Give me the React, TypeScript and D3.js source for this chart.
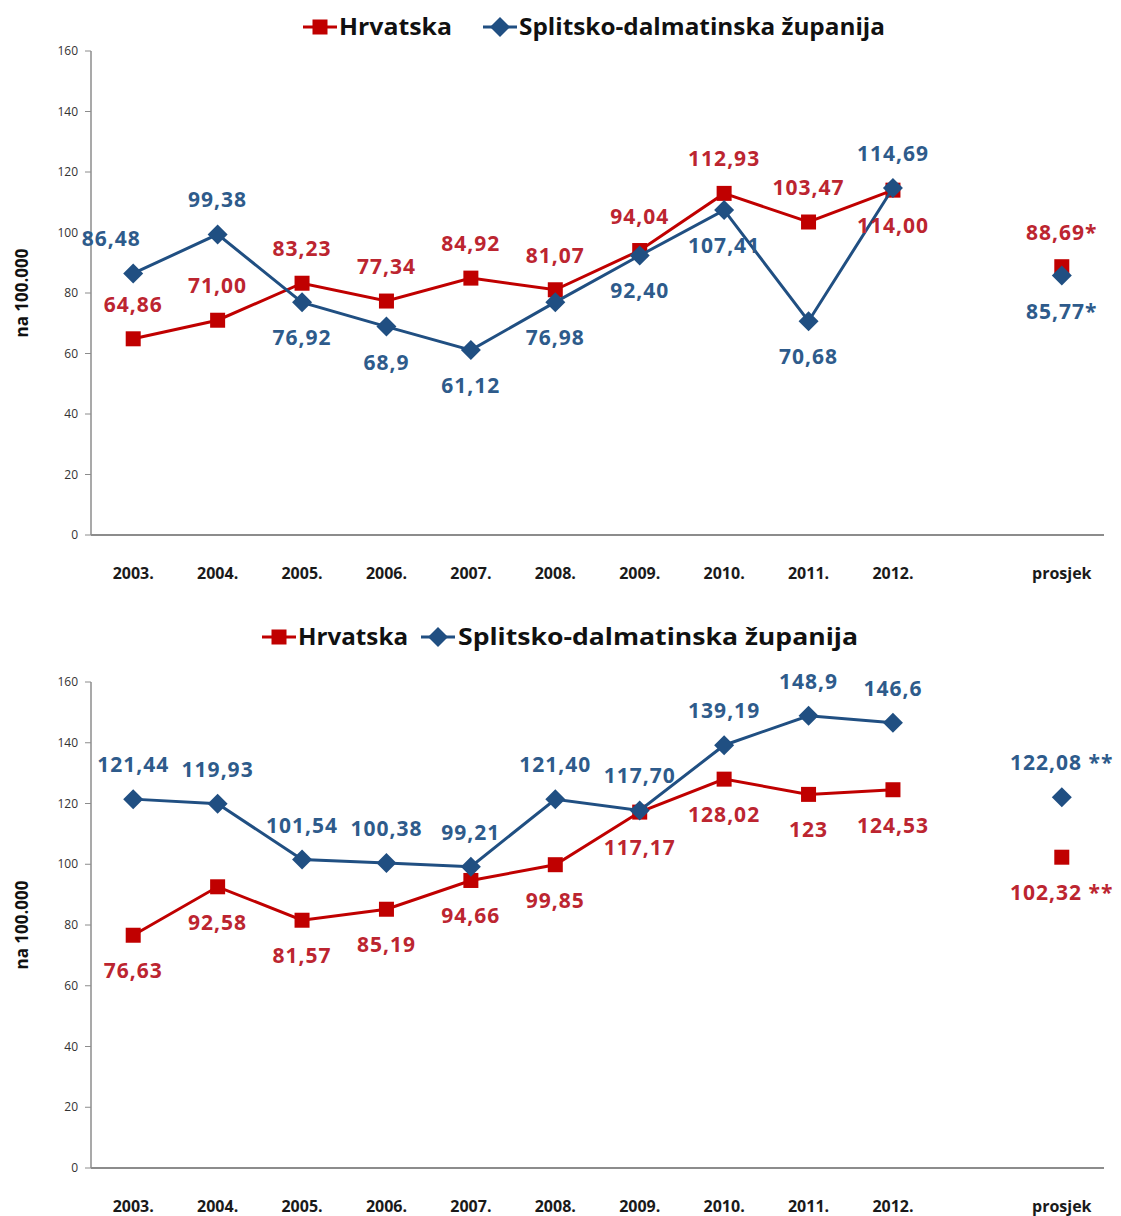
import React from "react";
import * as d3 from "d3";

// ---------- DATA ----------
const years = ["2003.", "2004.", "2005.", "2006.", "2007.", "2008.", "2009.", "2010.", "2011.", "2012."];
const categories = [...years, " ", "prosjek"];
const seriesNames = ["Hrvatska", "Splitsko-dalmatinska županija"];
const yTicks = [0, 20, 40, 60, 80, 100, 120, 140, 160];
const yTitle = "na 100.000";

// chart 1
const hrv1 = [64.86, 71.0, 83.23, 77.34, 84.92, 81.07, 94.04, 112.93, 103.47, 114.0];
const hrv1Labels = ["64,86", "71,00", "83,23", "77,34", "84,92", "81,07", "94,04", "112,93", "103,47", "114,00"];
const sdz1 = [86.48, 99.38, 76.92, 68.9, 61.12, 76.98, 92.4, 107.41, 70.68, 114.69];
const sdz1Labels = ["86,48", "99,38", "76,92", "68,9", "61,12", "76,98", "92,40", "107,41", "70,68", "114,69"];
const hrv1Avg = 88.69;
const hrv1AvgLabel = "88,69*";
const sdz1Avg = 85.77;
const sdz1AvgLabel = "85,77*";

// chart 2
const hrv2 = [76.63, 92.58, 81.57, 85.19, 94.66, 99.85, 117.17, 128.02, 123, 124.53];
const hrv2Labels = ["76,63", "92,58", "81,57", "85,19", "94,66", "99,85", "117,17", "128,02", "123", "124,53"];
const sdz2 = [121.44, 119.93, 101.54, 100.38, 99.21, 121.4, 117.7, 139.19, 148.9, 146.6];
const sdz2Labels = ["121,44", "119,93", "101,54", "100,38", "99,21", "121,40", "117,70", "139,19", "148,9", "146,6"];
const hrv2Avg = 102.32;
const hrv2AvgLabel = "102,32 **";
const sdz2Avg = 122.08;
const sdz2AvgLabel = "122,08 **";

// ---------- STYLE ----------
const RED = "#c00000";
const BLUE = "#204f82";
const RED_LABEL = "#bc2530";
const BLUE_LABEL = "#2e5b8b";
const FONT = "'Open Sans', 'Liberation Sans', Arial, sans-serif";

type Place = "a" | "b";

interface ChartProps {
  top: number;
  bottom: number;
  hrv: number[];
  hrvLabels: string[];
  sdz: number[];
  sdzLabels: string[];
  hrvAvg: number;
  hrvAvgLabel: string;
  sdzAvg: number;
  sdzAvgLabel: string;
  hrvPlace: Place[];
  sdzPlace: Place[];
  hrvAvgPlace: Place;
  sdzAvgPlace: Place;
  sdzDx?: number[];
  legendY: number;
  legend: { redX: number; redText: number; redLen: number; blueX: number; blueText: number; blueLen: number };
}

function Square({ x, y }: { x: number; y: number }) {
  const s = 15;
  return <rect x={x - s / 2} y={y - s / 2} width={s} height={s} fill={RED} />;
}

function Diamond({ x, y }: { x: number; y: number }) {
  const r = 10;
  return <path d={`M${x},${y - r}L${x + r},${y}L${x},${y + r}L${x - r},${y}Z`} fill={BLUE} />;
}

function Chart(p: ChartProps) {
  const axisX = 91;
  const xEnd = 1104;
  const x = d3.scaleBand<string>().domain(categories).range([axisX, xEnd]);
  const cx = (c: string) => (x(c) as number) + x.bandwidth() / 2;
  const y = d3.scaleLinear().domain([0, 160]).range([p.bottom, p.top]);
  const line = d3
    .line<number>()
    .x((_, i) => cx(years[i]))
    .y((d) => y(d));

  const labelY = (v: number, pl: Place) => (pl === "a" ? y(v) - 27 : y(v) + 43);
  const L = p.legend;

  return (
    <g>
      {/* legend */}
      <g fontFamily={FONT} fontWeight="bold" fontSize={23} fill="#111">
        <line x1={L.redX} x2={L.redX + 34} y1={p.legendY} y2={p.legendY} stroke={RED} strokeWidth={3} />
        <Square x={L.redX + 17} y={p.legendY} />
        <text x={L.redText} y={p.legendY + 8} textLength={L.redLen} lengthAdjust="spacingAndGlyphs">
          {seriesNames[0]}
        </text>
        <line x1={L.blueX} x2={L.blueX + 34} y1={p.legendY} y2={p.legendY} stroke={BLUE} strokeWidth={3} />
        <Diamond x={L.blueX + 17} y={p.legendY} />
        <text x={L.blueText} y={p.legendY + 8} textLength={L.blueLen} lengthAdjust="spacingAndGlyphs">
          {seriesNames[1]}
        </text>
      </g>

      {/* y axis */}
      <line x1={axisX} x2={axisX} y1={y(160)} y2={y(0)} stroke="#8c8c8c" strokeWidth={1.5} />
      {yTicks.map((t) => (
        <g key={t}>
          <line x1={axisX - 6} x2={axisX} y1={y(t)} y2={y(t)} stroke="#8c8c8c" strokeWidth={1} />
          <text x={axisX - 13} y={y(t) + 4} textAnchor="end" fontFamily={FONT} fontSize={12} fill="#333">
            {t}
          </text>
        </g>
      ))}
      <text
        transform={`translate(28,${(y(0) + y(160)) / 2}) rotate(-90)`}
        textAnchor="middle"
        fontFamily={FONT}
        fontWeight="bold"
        fontSize={17}
        fill="#111"
      >
        {yTitle}
      </text>

      {/* x axis */}
      <line x1={axisX} x2={xEnd} y1={y(0)} y2={y(0)} stroke="#8c8c8c" strokeWidth={2} />
      {categories.map((c) => (
        <text
          key={c}
          x={cx(c)}
          y={y(0) + 44}
          textAnchor="middle"
          fontFamily={FONT}
          fontWeight="bold"
          fontSize={16}
          fill="#1a1a1a"
        >
          {c}
        </text>
      ))}

      {/* Hrvatska */}
      <path d={line(p.hrv) || ""} fill="none" stroke={RED} strokeWidth={3} />
      {p.hrv.map((v, i) => (
        <Square key={i} x={cx(years[i])} y={y(v)} />
      ))}
      <Square x={cx("prosjek")} y={y(p.hrvAvg)} />

      {/* Splitsko-dalmatinska */}
      <path d={line(p.sdz) || ""} fill="none" stroke={BLUE} strokeWidth={3} />
      {p.sdz.map((v, i) => (
        <Diamond key={i} x={cx(years[i])} y={y(v)} />
      ))}
      <Diamond x={cx("prosjek")} y={y(p.sdzAvg)} />

      {/* labels */}
      <g fontFamily={FONT} fontWeight="bold" fontSize={21} letterSpacing={1} textAnchor="middle">
        {p.hrv.map((v, i) => (
          <text key={"h" + i} x={cx(years[i])} y={labelY(v, p.hrvPlace[i])} fill={RED_LABEL}>
            {p.hrvLabels[i]}
          </text>
        ))}
        <text x={cx("prosjek")} y={labelY(p.hrvAvg, p.hrvAvgPlace)} fill={RED_LABEL}>
          {p.hrvAvgLabel}
        </text>
        {p.sdz.map((v, i) => (
          <text
            key={"s" + i}
            x={cx(years[i]) + (p.sdzDx ? p.sdzDx[i] : 0)}
            y={labelY(v, p.sdzPlace[i])}
            fill={BLUE_LABEL}
          >
            {p.sdzLabels[i]}
          </text>
        ))}
        <text x={cx("prosjek")} y={labelY(p.sdzAvg, p.sdzAvgPlace)} fill={BLUE_LABEL}>
          {p.sdzAvgLabel}
        </text>
      </g>
    </g>
  );
}

export default function App() {
  return (
    <svg width={1121} height={1216} style={{ position: "absolute", left: 0, top: 0, background: "#fff" }}>
      <rect width={1121} height={1216} fill="#fff" />
      <Chart
        top={51}
        bottom={535}
        hrv={hrv1}
        hrvLabels={hrv1Labels}
        sdz={sdz1}
        sdzLabels={sdz1Labels}
        hrvAvg={hrv1Avg}
        hrvAvgLabel={hrv1AvgLabel}
        sdzAvg={sdz1Avg}
        sdzAvgLabel={sdz1AvgLabel}
        hrvPlace={["a", "a", "a", "a", "a", "a", "a", "a", "a", "b"]}
        sdzPlace={["a", "a", "b", "b", "b", "b", "b", "b", "b", "a"]}
        hrvAvgPlace="a"
        sdzAvgPlace="b"
        sdzDx={[-22, 0, 0, 0, 0, 0, 0, 0, 0, 0]}
        legendY={27}
        legend={{ redX: 303, redText: 339, redLen: 113, blueX: 483, blueText: 519, blueLen: 366 }}
      />
      <Chart
        top={682}
        bottom={1168}
        hrv={hrv2}
        hrvLabels={hrv2Labels}
        sdz={sdz2}
        sdzLabels={sdz2Labels}
        hrvAvg={hrv2Avg}
        hrvAvgLabel={hrv2AvgLabel}
        sdzAvg={sdz2Avg}
        sdzAvgLabel={sdz2AvgLabel}
        hrvPlace={["b", "b", "b", "b", "b", "b", "b", "b", "b", "b"]}
        sdzPlace={["a", "a", "a", "a", "a", "a", "a", "a", "a", "a"]}
        hrvAvgPlace="b"
        sdzAvgPlace="a"
        legendY={637}
        legend={{ redX: 262, redText: 298, redLen: 110, blueX: 421, blueText: 458, blueLen: 400 }}
      />
    </svg>
  );
}
